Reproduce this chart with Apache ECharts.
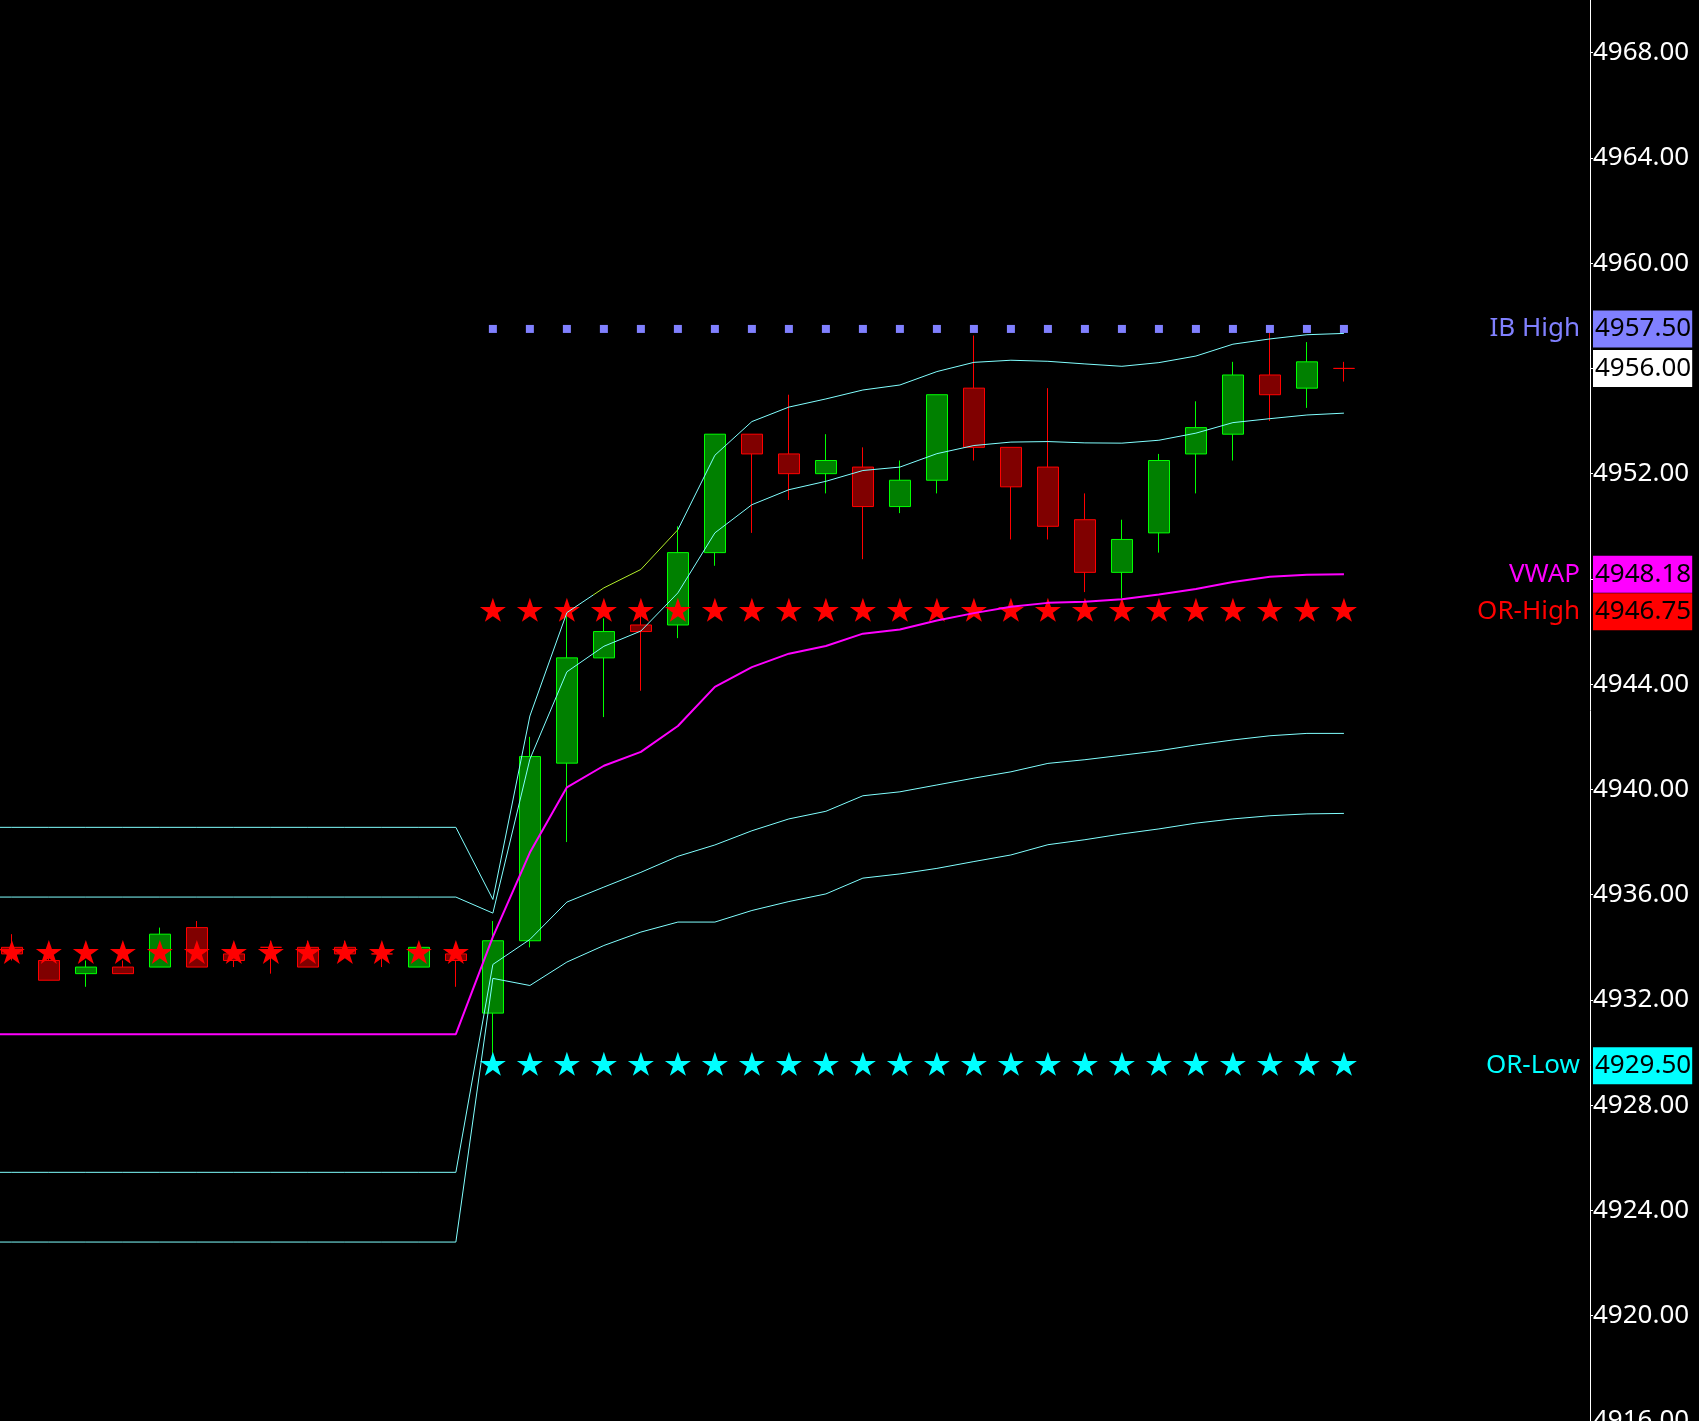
<!DOCTYPE html>
<html>
<head>
<meta charset="utf-8">
<script src="https://cdn.jsdelivr.net/npm/echarts@6/dist/echarts.min.js"></script>
<style>
html, body { margin: 0; padding: 0; background: #000; }
#chart { width: 1699px; height: 1421px; }
</style>
</head>
<body>
<div id="chart"></div>
<script>
// ---------- DATA ----------
// candles: [open, close, low, high]; position in array = bar index
const candles = [
  [4934.00, 4933.75, 4933.50, 4934.50],
  [4933.50, 4932.75, 4932.75, 4933.75],
  [4933.00, 4933.25, 4932.50, 4933.50],
  [4933.25, 4933.00, 4933.00, 4933.50],
  [4933.25, 4934.50, 4933.25, 4934.75],
  [4934.75, 4933.25, 4933.25, 4935.00],
  [4933.75, 4933.50, 4933.25, 4934.00],
  [4934.00, 4934.00, 4933.00, 4934.25],
  [4934.00, 4933.25, 4933.25, 4934.25],
  [4934.00, 4933.75, 4933.75, 4934.25],
  [4933.75, 4933.75, 4933.25, 4934.00],
  [4933.25, 4934.00, 4933.25, 4934.00],
  [4933.75, 4933.50, 4932.50, 4934.00],
  [4931.50, 4934.25, 4929.50, 4935.00],
  [4934.25, 4941.25, 4934.00, 4942.00],
  [4941.00, 4945.00, 4938.00, 4946.75],
  [4945.00, 4946.00, 4942.75, 4946.50],
  [4946.25, 4946.00, 4943.75, 4947.00],
  [4946.25, 4949.00, 4945.75, 4950.00],
  [4949.00, 4953.50, 4948.50, 4953.50],
  [4953.50, 4952.75, 4949.75, 4953.50],
  [4952.75, 4952.00, 4951.00, 4955.00],
  [4952.00, 4952.50, 4951.25, 4953.50],
  [4952.25, 4950.75, 4948.75, 4953.00],
  [4950.75, 4951.75, 4950.50, 4952.50],
  [4951.75, 4955.00, 4951.25, 4955.00],
  [4955.25, 4953.00, 4952.50, 4957.25],
  [4953.00, 4951.50, 4949.50, 4953.00],
  [4952.25, 4950.00, 4949.50, 4955.25],
  [4950.25, 4948.25, 4947.50, 4951.25],
  [4948.25, 4949.50, 4947.25, 4950.25],
  [4949.75, 4952.50, 4949.00, 4952.75],
  [4952.75, 4953.75, 4951.25, 4954.75],
  [4953.50, 4955.75, 4952.50, 4956.25],
  [4955.75, 4955.00, 4954.00, 4957.50],
  [4955.25, 4956.25, 4954.50, 4957.00],
  [4956.00, 4956.00, 4955.50, 4956.25]
];

// indicator lines start one bar before the first visible candle
const lineStartIndex = -1;
const upperBand2 = [4938.56,4938.56,4938.56,4938.56,4938.56,4938.56,4938.56,4938.56,4938.56,4938.56,4938.56,4938.56,4938.56,4938.56,
  4935.82,4942.79,4946.72,4947.66,4948.36,4949.87,4952.70,4953.98,4954.53,4954.84,4955.18,4955.37,4955.88,4956.23,4956.31,4956.27,
  4956.17,4956.08,4956.22,4956.47,4956.92,4957.12,4957.28,4957.33];
const upperBand1 = [4935.91,4935.91,4935.91,4935.91,4935.91,4935.91,4935.91,4935.91,4935.91,4935.91,4935.91,4935.91,4935.91,4935.91,
  4935.30,4941.15,4944.47,4945.44,4946.02,4947.47,4949.75,4950.82,4951.39,4951.71,4952.12,4952.25,4952.76,4953.07,4953.20,4953.22,
  4953.17,4953.16,4953.27,4953.54,4953.94,4954.09,4954.23,4954.30];
const lowerBand1 = [4925.45,4925.45,4925.45,4925.45,4925.45,4925.45,4925.45,4925.45,4925.45,4925.45,4925.45,4925.45,4925.45,4925.45,
  4933.35,4934.30,4935.72,4936.29,4936.85,4937.46,4937.89,4938.43,4938.88,4939.17,4939.76,4939.91,4940.17,4940.43,4940.67,4940.99,
  4941.13,4941.30,4941.47,4941.69,4941.88,4942.04,4942.13,4942.13];
const lowerBand2 = [4922.80,4922.80,4922.80,4922.80,4922.80,4922.80,4922.80,4922.80,4922.80,4922.80,4922.80,4922.80,4922.80,4922.80,
  4932.82,4932.55,4933.44,4934.07,4934.58,4934.96,4934.96,4935.40,4935.74,4936.03,4936.63,4936.79,4937.00,4937.26,4937.51,4937.90,
  4938.09,4938.31,4938.50,4938.72,4938.88,4939.00,4939.07,4939.09];
const vwap = [4930.70,4930.70,4930.70,4930.70,4930.70,4930.70,4930.70,4930.70,4930.70,4930.70,4930.70,4930.70,4930.70,4930.70,
  4934.40,4937.60,4940.08,4940.90,4941.43,4942.41,4943.90,4944.65,4945.16,4945.45,4945.92,4946.08,4946.42,4946.70,4946.94,4947.09,
  4947.13,4947.23,4947.41,4947.62,4947.88,4948.08,4948.16,4948.18];

// upper band 2 is drawn yellow-green over this bar range
const ub2HighlightRange = [15.7, 18.0];

// level markers
const prevLevelBars = [0, 12];        // bars carrying the previous OR-High stars
const prevORHigh = 4933.75;
const sessionBars = [13, 36];         // bars of the current session
const orHigh = 4946.75;
const orLow = 4929.50;
const ibHigh = 4957.50;

// y axis
const yMin = 4916, yMax = 4970, yStep = 4;

// ---------- BUILD ----------
const FONT = 'Noto Sans';
const CYAN_BAND = '#80FFFF';
const rangeIdx = r => { const a = []; for (let i = r[0]; i <= r[1]; i++) a.push(i); return a; };
const lineData = arr => arr.map((v, k) => [k + lineStartIndex, v]);
const candleData = candles.map((c, i) => [i, c[0], c[1], c[2], c[3]]);
const lastClose = candles[candles.length - 1][1];
const lastVwap = vwap[vwap.length - 1];

const starPath = 'path://M50,0L61.23,34.55L97.55,34.55L68.17,55.9L79.39,90.45L50,69.1L20.61,90.45L31.83,55.9L2.45,34.55L38.77,34.55Z';

const highlightLevels = [ibHigh, lastClose, lastVwap, orHigh, orLow];

function levelMarks(value, name, nameColor, bg) {
  const items = [{
    yAxis: value,
    label: {
      position: 'end', distance: 3, formatter: value.toFixed(2),
      color: '#000', backgroundColor: bg, padding: [3, 1, 3, 2], lineHeight: 31,
      fontSize: 26, fontFamily: FONT, opacity: 1
    }
  }];
  if (name) {
    items.push({
      yAxis: value,
      label: {
        position: 'insideEnd', distance: 10, formatter: name,
        color: nameColor, fontSize: 26, fontFamily: FONT, opacity: 1
      }
    });
  }
  return {
    silent: true, animation: false, symbol: ['none', 'none'],
    lineStyle: { color: 'rgba(0,0,0,0)', width: 0 },
    data: items
  };
}

const lineSeries = (name, data, color, width, z) => {
  const s = {
    name, type: 'line', data: lineData(data), showSymbol: false, symbol: 'none',
    smooth: false, z, lineStyle: { width },
    animation: false, silent: true
  };
  if (color) { s.lineStyle.color = color; s.itemStyle = { color }; }
  return s;
};

const option = {
  backgroundColor: '#000000',
  animation: false,
  grid: { left: 0, right: 109, top: 0, bottom: 0, containLabel: false, outerBoundsMode: 'none' },
  xAxis: {
    type: 'value', min: -0.32, max: 42.65,
    show: false, splitLine: { show: false }
  },
  yAxis: {
    type: 'value', position: 'right', min: yMin, max: yMax, interval: yStep,
    scale: true,
    axisLine: { show: true, onZero: false, lineStyle: { color: '#FFFFFF', width: 1 } },
    axisTick: { show: true, inside: false, length: 3, lineStyle: { color: '#FFFFFF' } },
    splitLine: { show: false },
    axisLabel: {
      color: '#FFFFFF', fontSize: 26, fontFamily: FONT, margin: 3,
      showMaxLabel: false,
      formatter: v => {
        if (Math.abs(v % yStep) > 1e-9) return '';
        if (highlightLevels.some(l => Math.abs(l - v) < 1.3)) return '';
        return v.toFixed(2);
      }
    }
  },
  visualMap: [{
    type: 'piecewise', show: false, seriesIndex: 8, dimension: 0,
    pieces: [
      { lt: ub2HighlightRange[0], color: CYAN_BAND },
      { gte: ub2HighlightRange[0], lte: ub2HighlightRange[1], color: '#B4F02A' },
      { gt: ub2HighlightRange[1], color: CYAN_BAND }
    ]
  }],
  series: [
    {
      name: 'Price', type: 'candlestick', data: candleData, barWidth: 22, z: 2,
      large: false, silent: true,
      itemStyle: {
        color: '#008000', color0: '#800000',
        borderColor: '#00FF00', borderColor0: '#FF0000', borderColorDoji: '#FF0000',
        borderWidth: 1
      },
      markLine: levelMarks(lastClose, null, null, '#FFFFFF')
    },
    {
      name: 'Prev OR-High', type: 'scatter', z: 3, silent: true,
      data: rangeIdx(prevLevelBars).map(i => [i, prevORHigh]),
      symbol: starPath, symbolSize: [26, 24], symbolOffset: [0, -2],
      itemStyle: { color: '#FF0000', opacity: 1 }
    },
    {
      name: 'OR-High', type: 'scatter', z: 3, silent: true,
      data: rangeIdx(sessionBars).map(i => [i, orHigh]),
      symbol: starPath, symbolSize: [26, 24], symbolOffset: [0, -2],
      itemStyle: { color: '#FF0000', opacity: 1 },
      markLine: levelMarks(orHigh, 'OR-High', '#FF0000', '#FF0000')
    },
    {
      name: 'OR-Low', type: 'scatter', z: 3, silent: true,
      data: rangeIdx(sessionBars).map(i => [i, orLow]),
      symbol: starPath, symbolSize: [26, 24], symbolOffset: [0, -2],
      itemStyle: { color: '#00FFFF', opacity: 1 },
      markLine: levelMarks(orLow, 'OR-Low', '#00FFFF', '#00FFFF')
    },
    {
      name: 'IB High', type: 'scatter', z: 3, silent: true,
      data: rangeIdx(sessionBars).map(i => [i, ibHigh]),
      symbol: 'rect', symbolSize: 8,
      itemStyle: { color: '#8080FF', opacity: 1 },
      markLine: levelMarks(ibHigh, 'IB High', '#8080FF', '#8080FF')
    },
    lineSeries('Lower Band 2', lowerBand2, CYAN_BAND, 1, 4),
    lineSeries('Lower Band 1', lowerBand1, CYAN_BAND, 1, 4),
    lineSeries('Upper Band 1', upperBand1, CYAN_BAND, 1, 4),
    lineSeries('Upper Band 2', upperBand2, null, 1, 4),
    Object.assign(lineSeries('VWAP', vwap, '#FF00FF', 2, 5), {
      markLine: levelMarks(lastVwap, 'VWAP', '#FF00FF', '#FF00FF')
    })
  ]
};

const chart = echarts.init(document.getElementById('chart'), null, { renderer: 'canvas' });
chart.setOption(option);
</script>
</body>
</html>
